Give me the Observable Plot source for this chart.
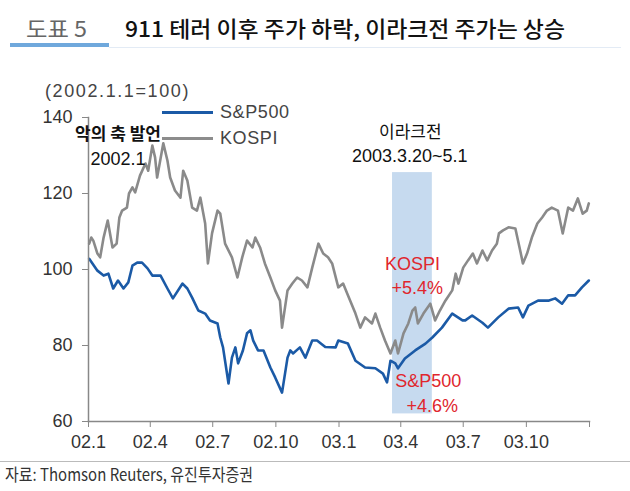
<!DOCTYPE html>
<html><head><meta charset="utf-8">
<script src="https://cdn.jsdelivr.net/npm/d3@7"></script>
<script src="https://cdn.jsdelivr.net/npm/@observablehq/plot@0.6"></script>
<style>
body{margin:0;background:#fff;width:630px;height:491px;position:relative;overflow:hidden;font-family:"Liberation Sans",Arial,sans-serif;}
.abs{position:absolute;white-space:nowrap;}
#fig{font-family:"Noto Sans CJK KR","Liberation Sans",sans-serif;color:#666;font-size:22px;left:26px;top:11px;transform-origin:0 0;}
#ttl{font-family:"Noto Sans CJK KR",sans-serif;color:#111;font-size:22px;font-weight:500;left:125px;top:11px;transform-origin:0 0;}
#uline{left:10px;top:43px;width:99px;height:4px;background:#6fa8dc;}
#gline{left:109px;top:47px;width:512px;height:1px;background:#e3ebf5;}
#chart{left:0;top:60px;}
#fline{left:0;top:461px;width:630px;height:1px;background:#bbb;}
#src{font-family:"Noto Sans CJK KR",sans-serif;color:#333;font-size:17px;left:5px;top:461px;transform-origin:0 0;}
#unit{left:45px;top:81px;font-size:18px;color:#444;letter-spacing:1.6px;}
.leg{font-size:18px;color:#444;letter-spacing:0.6px;}
.legline{height:3px;}
</style></head><body>
<div class="abs" id="fig">도표 5</div>
<div class="abs" id="ttl">911 테러 이후 주가 하락, 이라크전 주가는 상승</div>
<div class="abs" id="uline"></div>
<div class="abs" id="gline"></div>
<div class="abs" id="chart"></div>
<div class="abs" id="fline"></div>
<div class="abs" id="src">자료: Thomson Reuters, 유진투자증권</div>
<div class="abs" id="unit">(2002.1.1=100)</div>
<div class="abs legline" style="left:162px;top:111px;width:51px;background:#1b5aa6"></div>
<div class="abs leg" style="left:220px;top:102px">S&amp;P500</div>
<div class="abs legline" style="left:162px;top:137px;width:51px;background:#8c8c8c"></div>
<div class="abs leg" style="left:220px;top:128px">KOSPI</div>
<script>
const spDates = ["2002-01-02","2002-01-14","2002-01-23","2002-01-30","2002-02-06","2002-02-13","2002-02-21","2002-02-28","2002-03-06","2002-03-13","2002-03-20","2002-03-28","2002-04-04","2002-04-16","2002-04-26","2002-05-04","2002-05-18","2002-05-25","2002-06-01","2002-06-10","2002-06-20","2002-06-27","2002-07-08","2002-07-12","2002-07-16","2002-07-24","2002-07-29","2002-08-03","2002-08-07","2002-08-14","2002-08-20","2002-08-25","2002-08-29","2002-09-05","2002-09-13","2002-09-23","2002-09-30","2002-10-10","2002-10-18","2002-10-22","2002-10-26","2002-11-05","2002-11-13","2002-11-23","2002-11-30","2002-12-12","2002-12-27","2002-12-31","2003-01-14","2003-01-25","2003-02-08","2003-02-23","2003-03-06","2003-03-12","2003-03-17","2003-03-24","2003-03-28","2003-04-07","2003-04-22","2003-05-07","2003-05-17","2003-05-31","2003-06-15","2003-06-30","2003-07-04","2003-07-14","2003-07-29","2003-08-06","2003-08-21","2003-09-05","2003-09-19","2003-09-26","2003-10-04","2003-10-18","2003-11-02","2003-11-12","2003-11-22","2003-12-01","2003-12-11","2003-12-21","2003-12-31"];
const spValues = [102.8,99.7,98.4,98.9,95.0,97.1,95.0,96.6,101.0,101.8,101.8,100.3,98.4,98.4,95.0,92.4,96.3,95.0,92.6,89.2,88.4,86.6,85.8,82.1,79.5,70.0,76.8,79.5,75.3,78.7,83.2,84.0,81.3,78.7,78.7,74.2,71.6,67.6,76.8,78.7,77.9,79.5,76.8,81.3,81.3,79.6,79.5,81.3,80.5,76.0,74.2,74.0,72.6,70.3,76.0,75.3,74.0,76.6,78.7,80.5,82.1,84.7,88.4,86.6,86.6,87.9,86.0,84.7,87.4,89.7,90.0,87.4,90.5,91.8,91.8,92.4,91.0,93.2,93.2,95.3,97.1];
const kospiDates = ["2002-01-02","2002-01-05","2002-01-08","2002-01-14","2002-01-18","2002-01-23","2002-01-29","2002-02-05","2002-02-11","2002-02-15","2002-02-19","2002-02-26","2002-03-01","2002-03-06","2002-03-10","2002-03-17","2002-03-25","2002-03-29","2002-04-04","2002-04-08","2002-04-11","2002-04-16","2002-04-20","2002-04-26","2002-04-30","2002-05-07","2002-05-15","2002-05-19","2002-05-25","2002-06-01","2002-06-08","2002-06-13","2002-06-17","2002-06-20","2002-06-24","2002-06-30","2002-07-08","2002-07-12","2002-07-19","2002-07-29","2002-08-06","2002-08-13","2002-08-20","2002-08-28","2002-09-01","2002-09-08","2002-09-15","2002-09-23","2002-09-30","2002-10-07","2002-10-10","2002-10-18","2002-10-25","2002-11-01","2002-11-08","2002-11-16","2002-11-23","2002-12-02","2002-12-09","2002-12-16","2002-12-22","2002-12-31","2003-01-07","2003-01-14","2003-01-25","2003-02-01","2003-02-08","2003-02-18","2003-02-23","2003-03-02","2003-03-09","2003-03-17","2003-03-24","2003-03-28","2003-04-05","2003-04-12","2003-04-18","2003-04-22","2003-04-26","2003-05-04","2003-05-14","2003-05-21","2003-05-28","2003-06-05","2003-06-15","2003-06-20","2003-06-24","2003-07-01","2003-07-08","2003-07-15","2003-07-21","2003-07-29","2003-08-05","2003-08-12","2003-08-19","2003-08-22","2003-08-28","2003-09-05","2003-09-15","2003-09-22","2003-09-26","2003-10-02","2003-10-09","2003-10-17","2003-10-24","2003-10-31","2003-11-07","2003-11-16","2003-11-23","2003-12-01","2003-12-08","2003-12-15","2003-12-22","2003-12-28","2003-12-31"];
const kospiValues = [106.8,108.4,107.6,104.2,103.2,108.4,112.9,105.8,106.8,113.7,115.5,116.3,120.0,121.6,120.3,124.7,127.9,126.0,132.6,129.5,124.2,129.2,133.2,128.7,124.2,120.8,118.9,126.0,123.4,116.3,115.5,118.9,115.0,112.1,101.6,109.5,115.5,114.7,106.8,103.2,97.9,103.2,107.6,105.8,108.4,105.8,101.6,97.9,94.5,91.8,84.7,94.5,96.3,97.9,97.1,95.3,100.5,106.8,104.2,103.2,101.6,95.3,96.3,93.2,88.4,84.7,87.4,85.8,88.4,84.7,81.3,77.9,81.3,77.9,83.2,85.8,89.2,90.0,85.8,88.4,91.0,86.6,89.2,91.8,94.5,98.9,96.3,100.5,102.4,104.2,101.6,105.0,102.4,105.0,106.8,109.5,110.3,111.1,110.8,105.0,101.6,104.2,108.4,112.1,113.7,115.5,116.3,115.5,109.5,116.3,115.5,118.7,114.7,115.5,117.4];
const xTickDates = ["2002-01-01","2002-04-01","2002-07-01","2002-10-01","2003-01-01","2003-04-01","2003-07-01","2003-10-01","2004-01-01"];
const xTickLabels = ["02.1","02.4","02.7","02.10","03.1","03.4","03.7","03.10",""];
const yTicks = [60,80,100,120,140];
const warBand = {start:"2003-03-20", end:"2003-05-17", low:62, high:125.5};
const boldNotes = [
  {date:"2002-02-13", value:135.6, text:"악의 축 발언"}
];
const koreanNotes = [
  {date:"2003-04-15", value:136.1, text:"이라크전"}
];
const dateNotes = [
  {date:"2002-02-13", value:129.0, text:"2002.1"},
  {date:"2003-04-14", value:129.7, text:"2003.3.20~5.1"}
];
const redNotes = [
  {date:"2003-04-18", value:101.3, text:"KOSPI"},
  {date:"2003-04-25", value:95.0, text:"+5.4%"},
  {date:"2003-05-11", value:70.5, text:"S&P500"},
  {date:"2003-05-17", value:64.0, text:"+4.6%"}
];

const P = d3.utcParse("%Y-%m-%d");
const sp = spDates.map((d,i)=>({date:P(d), value:spValues[i]}));
const ks = kospiDates.map((d,i)=>({date:P(d), value:kospiValues[i]}));
const ticks = xTickDates.map(P);
const labelMap = new Map(ticks.map((t,i)=>[+t, xTickLabels[i]]));
const band = [{x1:P(warBand.start), x2:P(warBand.end), y1:warBand.low, y2:warBand.high}];
const toD = arr => arr.map(d=>({...d, date:P(d.date)}));

const chart = Plot.plot({
  width:630, height:400,
  marginLeft:88, marginRight:41, marginTop:57, marginBottom:39,
  style:{fontFamily:"'Liberation Sans',Arial,sans-serif", fontSize:"18px", color:"#333", background:"transparent"},
  x:{type:"utc", domain:[P("2002-01-01"), P("2004-01-01")]},
  y:{domain:[60,140]},
  marks:[
    Plot.rect(band, {x1:"x1", x2:"x2", y1:"y1", y2:"y2", fill:"#c6daef"}),
    Plot.line(ks, {x:"date", y:"value", stroke:"#8a8a8a", strokeWidth:2.6, strokeLinejoin:"round"}),
    Plot.line(sp, {x:"date", y:"value", stroke:"#1b5aa6", strokeWidth:2.6, strokeLinejoin:"round"}),
    Plot.frame({anchor:"left", stroke:"#888", strokeWidth:1.5}),
    Plot.frame({anchor:"bottom", stroke:"#888", strokeWidth:1.5}),
    Plot.axisY({ticks:yTicks, tickSize:6, tickPadding:10, stroke:"#888", label:null, fontSize:18, fill:"#333", letterSpacing:"0.8px"}),
    Plot.axisX({ticks:ticks, tickSize:6, tickPadding:8, stroke:"#888", label:null, tickFormat:d=>labelMap.get(+d) ?? "", fontSize:18, fill:"#333", letterSpacing:"1.2px"}),
    Plot.text(toD(boldNotes), {x:"date", y:"value", text:"text", fill:"#111", fontSize:17, fontWeight:"bold", fontFamily:"'Noto Sans CJK KR',sans-serif", letterSpacing:"0.3px", lineHeight:1}),
    Plot.text(toD(koreanNotes), {x:"date", y:"value", text:"text", fill:"#111", fontSize:17, fontFamily:"'Noto Sans CJK KR',sans-serif", letterSpacing:"0.5px", lineHeight:1}),
    Plot.text(toD(dateNotes), {x:"date", y:"value", text:"text", fill:"#111", fontSize:18, letterSpacing:"0.6px", lineHeight:1}),
    Plot.text(toD(redNotes), {x:"date", y:"value", text:"text", fill:"#e0262d", fontSize:18, letterSpacing:"0.5px"})
  ]
});
document.getElementById("chart").appendChild(chart);

function fit(id, w){ const el=document.getElementById(id); const cw=el.getBoundingClientRect().width; el.style.transform=`scaleX(${w/cw})`; }
fit("ttl", 440);
fit("fig", 61);
fit("src", 248);
</script>
</body></html>
